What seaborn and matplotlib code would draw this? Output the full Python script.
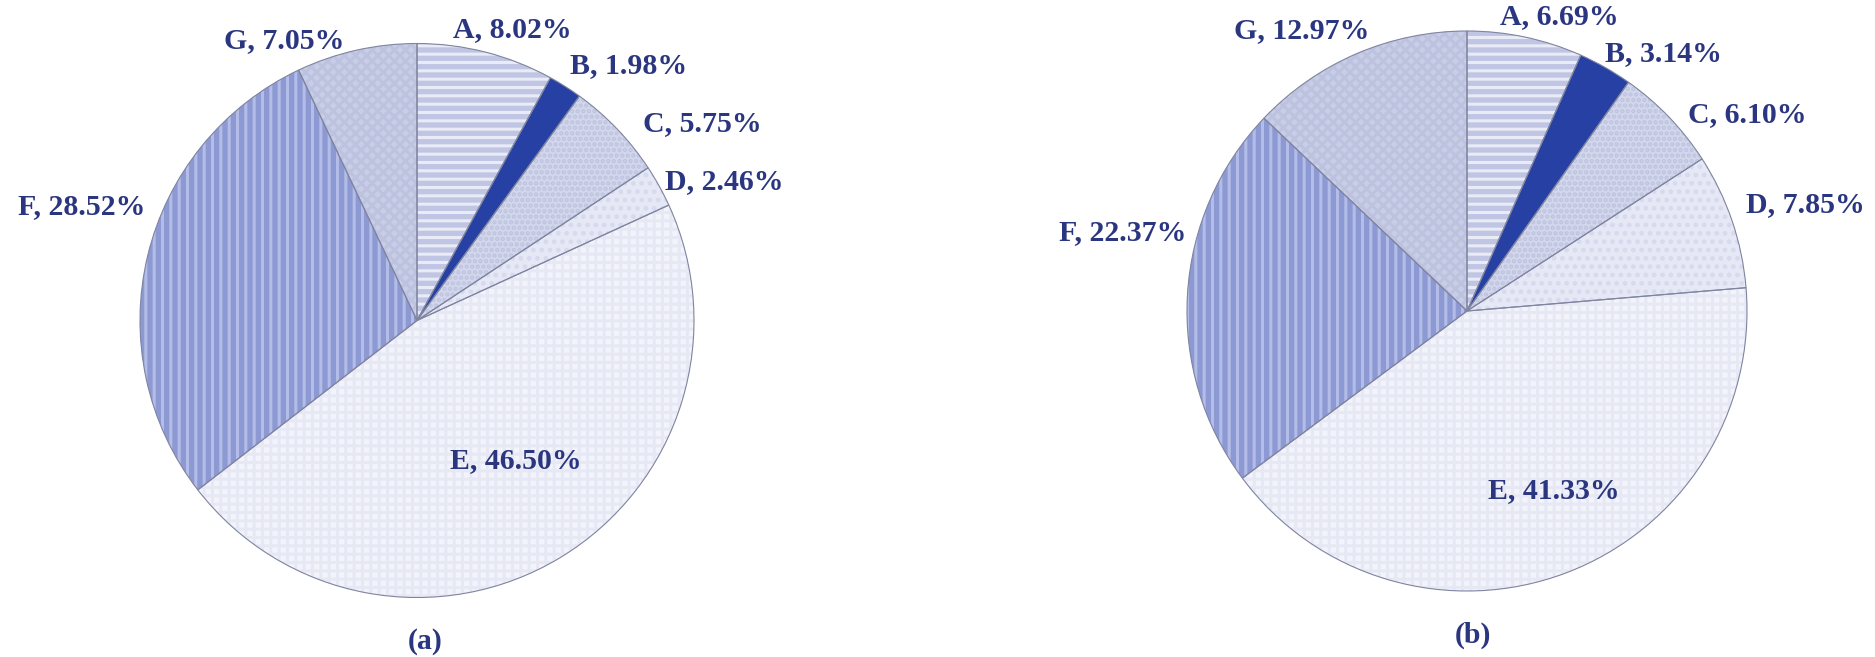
import matplotlib
matplotlib.use("Agg")
import matplotlib.pyplot as plt
import seaborn as sns

sns.set_theme(style="white")
plt.rcParams['font.family'] = ['Liberation Serif', 'DejaVu Serif']
plt.rcParams['hatch.linewidth'] = 2.2

categories = ["A", "B", "C", "D", "E", "F", "G"]
values_a = [8.02, 1.98, 5.75, 2.46, 46.50, 28.52, 7.05]
values_b = [6.69, 3.14, 6.10, 7.85, 41.33, 22.37, 12.97]
panel_titles = ["(a)", "(b)"]

face_colors = ["#BFC5E3", "#2640A4", "#D3D7EC", "#E6E9F5", "#F3F4FB", "#8C99D2", "#C9CEE8"]
hatch_colors = ["#E9EBF6", "#2640A4", "#BEC4E0", "#D6DAEE", "#E6E8F4", "#B3BDE8", "#BDC3DF"]
hatches = ["--", None, "...", "..", "++", "||", "xxx"]

text_color = "#2B3680"
edge_color = "#7F84A0"

label_pos_a = [(0.343, 1.05), (0.765, 0.92), (1.03, 0.71), (1.11, 0.50),
               (0.357, -0.507), (-1.21, 0.41), (-0.48, 1.01)]
label_pos_b = [(0.33, 1.05), (0.70, 0.92), (1.00, 0.70), (1.21, 0.38),
               (0.31, -0.64), (-1.23, 0.28), (-0.59, 1.00)]

W, H = 1875, 657
fig = plt.figure(figsize=(W / 100, H / 100), dpi=100)

def draw_pie(cx, cy, r, values, label_pos, title, title_xy):
    ax = fig.add_axes([(cx - r) / W, (H - cy - r) / H, 2 * r / W, 2 * r / H])
    kw = dict(startangle=90, counterclock=False, radius=1.0)
    ax.pie(values, colors=face_colors, wedgeprops=dict(linewidth=0), **kw)
    w2, _ = ax.pie(values, colors=face_colors, wedgeprops=dict(linewidth=0), **kw)
    for w, h, hc in zip(w2, hatches, hatch_colors):
        w.set_facecolor("none")
        w.set_hatch(h)
        w.set_edgecolor(hc)
        w.set_linewidth(0)
    ax.pie(values, colors=face_colors,
           wedgeprops=dict(linewidth=0.8, edgecolor=edge_color, fill=False), **kw)
    ax.set_xlim(-1, 1)
    ax.set_ylim(-1, 1)
    ax.set_aspect("auto")
    ax.axis("off")
    for cat, v, (x, y) in zip(categories, values, label_pos):
        ax.text(x, y, f"{cat}, {v:.2f}%", ha="center", va="center", fontsize=21.5,
                fontweight="bold", color=text_color, clip_on=False)
    ax.text(title_xy[0], title_xy[1], title, ha="center", va="center", fontsize=21.5,
            fontweight="bold", color=text_color, clip_on=False)

draw_pie(417, 320.5, 277, values_a, label_pos_a, panel_titles[0], (0.03, -1.16))
draw_pie(1467, 311, 280, values_b, label_pos_b, panel_titles[1], (0.02, -1.16))

fig.savefig("out.png", dpi=100, facecolor="white")
